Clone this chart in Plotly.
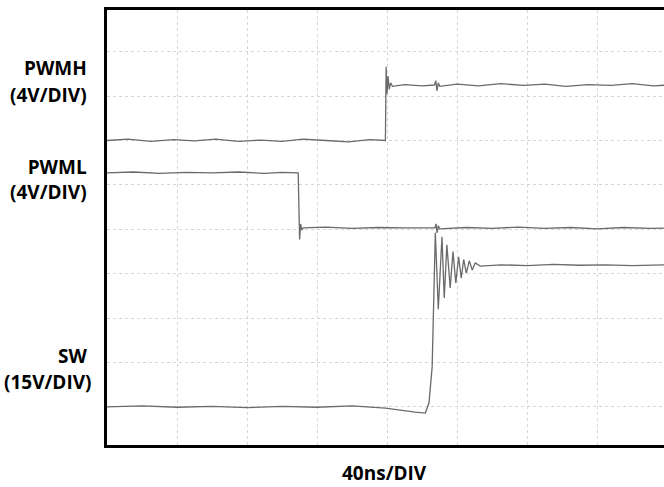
import plotly.graph_objects as go

# time in ns (40 ns per division), amplitude in screen divisions
pwmh_t = [0, 12, 25, 38, 50, 62, 75, 88, 100, 112, 125, 138, 150, 159.0, 159.4, 159.9, 160.5, 161.2, 162.0, 163.0,
          170, 180, 187.0, 187.8, 188.4, 189.2, 190.0, 200, 212, 225, 238, 250, 262, 275, 288, 300, 312, 320]
pwmh_v = [6.00, 6.03, 5.98, 6.02, 5.99, 6.03, 5.98, 6.01, 5.98, 6.03, 6.00, 5.97, 6.02, 6.00, 7.66, 7.05, 7.45, 7.15,
          7.30, 7.22, 7.26, 7.23, 7.25, 7.35, 7.12, 7.30, 7.22, 7.27, 7.23, 7.28, 7.24, 7.27, 7.22, 7.26, 7.24, 7.28,
          7.23, 7.25]

pwml_t = [0, 15, 30, 45, 60, 75, 90, 100, 109.2, 110.0, 110.6, 111.2, 112.0, 125, 140, 155, 170, 187.3, 187.9,
          188.5, 189.2, 190.0, 205, 220, 235, 250, 265, 280, 295, 310, 320]
pwml_v = [5.27, 5.29, 5.26, 5.28, 5.27, 5.29, 5.26, 5.28, 5.27, 3.77, 4.12, 3.98, 4.03, 4.05, 4.02, 4.04, 4.03,
          4.03, 4.12, 3.92, 4.08, 4.01, 4.04, 4.02, 4.05, 4.02, 4.04, 4.01, 4.04, 4.02, 4.03]

sw_t = [0, 20, 40, 60, 80, 100, 120, 140, 159, 167.5, 176, 181.8, 183.9, 185.7, 186.7, 187.5, 189.2, 191.3, 192.6,
        194.1, 196.0, 197.6, 199.2, 200.8, 202.3, 203.7, 205.2, 206.9, 208.6, 210.3, 213.2, 225, 240, 255, 270,
        285, 300, 320]
sw_v = [0.00, 0.02, -0.01, 0.01, -0.02, 0.01, -0.01, 0.02, -0.03, -0.08, -0.12, -0.14, 0.09, 0.90, 2.26, 3.92,
        2.20, 3.83, 2.45, 3.65, 2.68, 3.50, 2.79, 3.38, 2.90, 3.32, 3.01, 3.29, 3.08, 3.24, 3.17, 3.20, 3.18, 3.21,
        3.19, 3.20, 3.18, 3.20]

labels = ["PWMH", "(4V/DIV)", "PWML<br>(4V/DIV)", "SW", "(15V/DIV)"]
x_title = "40ns/DIV"

W, H = 664, 487
ML, MR, MT, MB = 107, 0, 10, 42
LINE = "#6a6a6a"

fig = go.Figure()
for t, v in [(pwmh_t, pwmh_v), (pwml_t, pwml_v), (sw_t, sw_v)]:
    fig.add_trace(go.Scatter(x=t, y=v, mode="lines", line=dict(color=LINE, width=1.3),
                             hoverinfo="skip", showlegend=False))

font = dict(family="Open Sans", size=19, color="#000000", weight="bold")

def ypaper(py):
    return (H - MB - py) / (H - MT - MB)

label_pos = [(89, 67.5), (89, 94.5), (89, 179.5), (89, 356), (94, 382)]
for txt, (px, py) in zip(labels, label_pos):
    fig.add_annotation(text=txt, xref="paper", yref="paper", x=0, y=ypaper(py), align="right",
                       xanchor="right", yanchor="middle", xshift=px - ML, showarrow=False, font=font)

fig.add_annotation(text=x_title, xref="paper", yref="paper", x=(384.5 - ML) / (W - ML - MR), y=ypaper(473),
                   xanchor="center", yanchor="middle", showarrow=False, font=font)

fig.update_layout(
    width=W, height=H,
    margin=dict(l=ML, r=MR, t=MT, b=MB),
    paper_bgcolor="white", plot_bgcolor="white",
    xaxis=dict(range=[0, 318.1], dtick=40, tick0=0, showgrid=True, gridcolor="#d6d6d6", griddash="dot",
               gridwidth=1, zeroline=False, showticklabels=False, ticks="",
               showline=True, linecolor="#000000", linewidth=2.5, mirror=True),
    yaxis=dict(range=[-0.86, 8.94], dtick=1, tick0=0, showgrid=True, gridcolor="#d6d6d6", griddash="dot",
               gridwidth=1, zeroline=False, showticklabels=False, ticks="",
               showline=True, linecolor="#000000", linewidth=2.5, mirror=False),
)

fig.write_html("out.html", config={"displayModeBar": False},
               post_script="document.body.style.margin='0';document.body.style.overflow='hidden';")
